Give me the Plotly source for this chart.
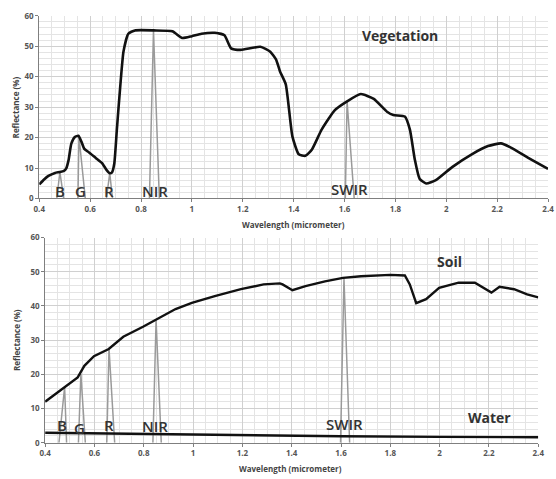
import plotly.graph_objects as go

# ---------------- data ----------------
veg_wl = [0.40, 0.42, 0.436, 0.462, 0.481, 0.497, 0.506, 0.515, 0.526, 0.54, 0.554, 0.566,
          0.577, 0.596, 0.622, 0.647, 0.665, 0.677, 0.686, 0.695, 0.705, 0.718, 0.731, 0.75,
          0.776, 0.85, 0.923, 0.962, 1.0, 1.038, 1.09, 1.128, 1.154, 1.192, 1.269, 1.308,
          1.331, 1.346, 1.369, 1.395, 1.42, 1.446, 1.472, 1.51, 1.562, 1.61, 1.664, 1.715,
          1.767, 1.792, 1.837, 1.857, 1.876, 1.895, 1.921, 1.959, 2.023, 2.1, 2.164, 2.215,
          2.254, 2.331, 2.40]
veg_refl = [4.6, 6.3, 7.4, 8.4, 8.7, 9.1, 9.9, 12.5, 18.0, 20.2, 20.6, 18.6,
            16.3, 15.1, 13.3, 11.6, 9.3, 8.3, 8.6, 11.5, 22.6, 36.5, 48.2, 54.1,
            55.2, 55.2, 54.9, 52.7, 53.3, 54.1, 54.4, 53.6, 49.3, 48.8, 49.8, 48.2,
            45.6, 41.8, 37.5, 20.4, 14.5, 14.0, 16.1, 22.6, 29.0, 31.9, 34.3, 32.7,
            28.5, 27.4, 26.9, 22.6, 12.9, 6.5, 4.9, 6.0, 10.3, 14.5, 17.2, 18.1,
            16.7, 12.9, 9.7]

soil_wl = [0.40, 0.479, 0.532, 0.559, 0.598, 0.658, 0.717, 0.797, 0.85, 0.929, 0.995, 1.088,
           1.194, 1.286, 1.352, 1.363, 1.403, 1.456, 1.535, 1.608, 1.681, 1.80, 1.859, 1.879,
           1.905, 1.945, 1.998, 2.077, 2.143, 2.21, 2.243, 2.302, 2.355, 2.40]
soil_refl = [12.0, 16.3, 19.1, 22.5, 25.3, 27.4, 31.0, 33.9, 36.0, 39.1, 40.9, 42.9,
             44.9, 46.3, 46.6, 46.3, 44.6, 45.8, 47.2, 48.2, 48.7, 49.1, 48.9, 46.3,
             40.8, 42.0, 45.3, 46.8, 46.8, 43.9, 45.6, 44.9, 43.4, 42.5]

water_wl = [0.40, 0.85, 1.3, 1.4, 1.6, 2.0, 2.4]
water_refl = [2.9, 2.5, 2.2, 2.0, 1.9, 1.7, 1.6]

band_names = ["B", "G", "R", "NIR", "SWIR"]
# vegetation panel band triangles
veg_band_center = [0.481, 0.556, 0.677, 0.849, 1.610]
veg_band_lo = [0.469, 0.552, 0.664, 0.833, 1.603]
veg_band_hi = [0.496, 0.581, 0.688, 0.872, 1.638]
veg_band_top = [8.7, 20.4, 8.3, 55.2, 31.9]
veg_label_x = [0.483, 0.562, 0.674, 0.853, 1.619]
veg_label_y = [2.6, 2.6, 2.6, 2.6, 3.2]
# soil/water panel band triangles
soil_band_center = [0.479, 0.545, 0.659, 0.850, 1.612]
soil_band_lo = [0.456, 0.535, 0.650, 0.837, 1.598]
soil_band_hi = [0.487, 0.563, 0.682, 0.871, 1.635]
soil_band_top = [16.3, 20.1, 27.7, 35.8, 48.2]
soil_label_x = [0.469, 0.541, 0.659, 0.847, 1.614]
soil_label_y = [5.3, 4.4, 5.3, 4.9, 5.5]

x_ticks = [0.4, 0.6, 0.8, 1.0, 1.2, 1.4, 1.6, 1.8, 2.0, 2.2, 2.4]
x_tick_text = ["0.4", "0.6", "0.8", "1", "1.2", "1.4", "1.6", "1.8", "2", "2.2", "2.4"]
y_ticks = [0, 10, 20, 30, 40, 50, 60]

# ---------------- figure ----------------
W, H = 556, 479
FONT = "Open Sans"
fig = go.Figure()

GRAY = "#9a9a9a"
for i in range(len(band_names)):
    fig.add_trace(go.Scatter(x=[veg_band_lo[i], veg_band_center[i], veg_band_hi[i]],
                             y=[0, veg_band_top[i], 0], mode="lines",
                             line=dict(color=GRAY, width=1.5), xaxis="x", yaxis="y",
                             showlegend=False, hoverinfo="skip"))
    fig.add_trace(go.Scatter(x=[soil_band_lo[i], soil_band_center[i], soil_band_hi[i]],
                             y=[0, soil_band_top[i], 0], mode="lines",
                             line=dict(color=GRAY, width=1.5), xaxis="x2", yaxis="y2",
                             showlegend=False, hoverinfo="skip"))

fig.add_trace(go.Scatter(x=veg_wl, y=veg_refl, mode="lines",
                         line=dict(color="#111111", width=2.6, shape="spline", smoothing=0.5),
                         xaxis="x", yaxis="y", showlegend=False))
fig.add_trace(go.Scatter(x=soil_wl, y=soil_refl, mode="lines", line=dict(color="#111111", width=2.4),
                         xaxis="x2", yaxis="y2", showlegend=False))
fig.add_trace(go.Scatter(x=water_wl, y=water_refl, mode="lines", line=dict(color="#111111", width=2.4),
                         xaxis="x2", yaxis="y2", showlegend=False))

TICKFONT = dict(family=FONT, size=8, color="#555555", weight="bold")

def xaxis(domain, anchor):
    return dict(domain=domain, anchor=anchor, range=[0.4, 2.4], tickvals=x_ticks, ticktext=x_tick_text,
                showgrid=True, gridcolor="#d0d0d0", gridwidth=1,
                minor=dict(dtick=0.05, tick0=0.4, showgrid=True, gridcolor="#e4e4e4", gridwidth=1),
                showline=True, linecolor="#7f7f7f", linewidth=1, ticks="outside", ticklen=3,
                tickcolor="#7f7f7f", zeroline=False, tickfont=TICKFONT)

def yaxis(domain, anchor):
    return dict(domain=domain, anchor=anchor, range=[0, 60], tickvals=y_ticks,
                showgrid=True, gridcolor="#d0d0d0", gridwidth=1,
                minor=dict(dtick=2, showgrid=True, gridcolor="#e4e4e4", gridwidth=1),
                showline=True, linecolor="#7f7f7f", linewidth=1, ticks="outside", ticklen=3,
                tickcolor="#7f7f7f", zeroline=False, tickfont=TICKFONT)

fig.update_layout(
    width=W, height=H, margin=dict(l=0, r=0, t=0, b=0),
    paper_bgcolor="white", plot_bgcolor="white",
    xaxis=xaxis([34 / W, 554 / W], "y"),
    yaxis=yaxis([1 - 197 / H, 1 - 10 / H], "x"),
    xaxis2=xaxis([40 / W, 544 / W], "y2"),
    yaxis2=yaxis([1 - 447 / H, 1 - 237 / H], "x2"),
)

LBL = dict(family=FONT, size=15, color="#333333", weight=600)
ann = []
for i, n in enumerate(band_names):
    ann.append(dict(x=veg_label_x[i], y=veg_label_y[i], xref="x", yref="y", text=n, showarrow=False,
                    font=LBL, xanchor="center", yanchor="middle"))
    ann.append(dict(x=soil_label_x[i], y=soil_label_y[i], xref="x2", yref="y2", text=n, showarrow=False,
                    font=LBL, xanchor="center", yanchor="middle"))
TTL = dict(family=FONT, size=14, color="#333333", weight="bold")
ann.append(dict(x=1.818, y=53.4, xref="x", yref="y", text="Vegetation", showarrow=False, font=TTL,
                xanchor="center", yanchor="middle"))
ann.append(dict(x=2.038, y=52.9, xref="x2", yref="y2", text="Soil", showarrow=False, font=TTL,
                xanchor="center", yanchor="middle"))
ann.append(dict(x=2.203, y=7.5, xref="x2", yref="y2", text="Water", showarrow=False, font=TTL,
                xanchor="center", yanchor="middle"))
AX = dict(family=FONT, size=8, color="#444444", weight="bold")
for (xc, yc) in [(294, 224), (291, 473)]:
    ann.append(dict(x=xc / W, y=1 - yc / H, xref="paper", yref="paper", text="Wavelength (micrometer)",
                    showarrow=False, font=AX, xanchor="center", yanchor="middle"))
for yc in [104, 342]:
    ann.append(dict(x=10 / W, y=1 - yc / H, xref="paper", yref="paper", text="Reflectance (%)",
                    textangle=-90, showarrow=False, font=AX, xanchor="center", yanchor="middle"))
fig.update_layout(annotations=ann)

fig.write_html("out.html")
